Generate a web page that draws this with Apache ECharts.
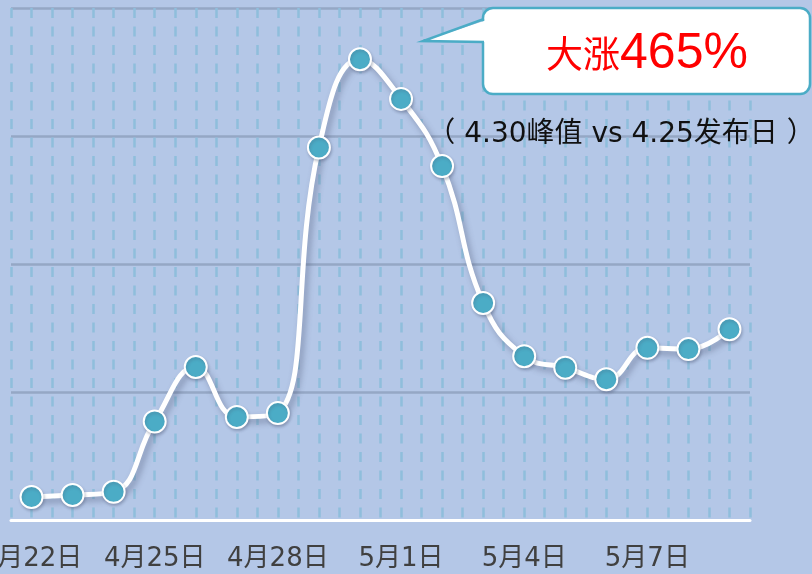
<!DOCTYPE html>
<html>
<head>
<meta charset="utf-8">
<script src="https://cdn.jsdelivr.net/npm/echarts@6/dist/echarts.min.js"></script>
<style>
  html, body { margin: 0; padding: 0; background: #b4c7e7; }
  #main { width: 812px; height: 574px; }
</style>
</head>
<body>
<div id="main"></div>
<script>
// data
const dates = ['4月22日', '4月23日', '4月24日', '4月25日', '4月26日', '4月27日',
  '4月28日', '4月29日', '4月30日', '5月1日', '5月2日', '5月3日',
  '5月4日', '5月5日', '5月6日', '5月7日', '5月8日', '5月9日'];
const values = [18, 19.5, 22, 77, 119.5, 80.5, 83.5, 291, 360, 329, 276.5, 169.5,
  128, 119, 110, 134.5, 133.5, 149];
const yTicks = [0, 100, 200, 300, 400];
const calloutMain = '大涨';
const calloutPct = '465%';
const calloutNote = '（ 4.30峰值 vs 4.25发布日 ）';

const teal = '#4bacc6';
const font = '"DejaVu Sans", "Noto Sans CJK SC", sans-serif';

let myChart = echarts.init(document.getElementById('main'));
let option = {
  backgroundColor: '#b4c7e7',
  animation: false,
  grid: { left: 11, right: 62, top: 8, bottom: 54, outerBoundsMode: 'none', containLabel: false },
  xAxis: [{
    type: 'category',
    data: dates,
    boundaryGap: true,
    axisLine: { lineStyle: { color: '#ffffff', width: 3 } },
    axisTick: { show: false },
    splitLine: { show: false },
    axisLabel: {
      interval: 2,
      margin: 26,
      color: '#404040',
      fontSize: 26,
      fontFamily: font
    }
  }, {
    // only used for the dashed vertical lines (every half day)
    type: 'value',
    min: 0,
    max: dates.length * 2,
    interval: 1,
    position: 'top',
    axisLine: { show: false },
    axisTick: { show: false },
    axisLabel: { show: false },
    splitLine: {
      show: true,
      lineStyle: { color: '#8fbedc', width: 2.5, type: [10, 8.5] }
    }
  }],
  yAxis: {
    type: 'value',
    min: yTicks[0],
    max: yTicks[yTicks.length - 1],
    interval: 100,
    axisLine: { show: false },
    axisTick: { show: false },
    axisLabel: { show: false },
    splitLine: { lineStyle: { color: '#95a7c5', width: 2.5 } }
  },
  series: [{
    type: 'line',
    data: values,
    smooth: 0.45,
    symbol: 'circle',
    symbolSize: 22,
    z: 5,
    lineStyle: {
      color: '#ffffff',
      width: 5,
      shadowColor: 'rgba(70,80,110,0.45)',
      shadowBlur: 6,
      shadowOffsetX: 3,
      shadowOffsetY: 4
    },
    itemStyle: {
      color: teal,
      borderColor: '#ffffff',
      borderWidth: 2,
      shadowColor: 'rgba(70,80,110,0.3)',
      shadowBlur: 3,
      shadowOffsetX: 1,
      shadowOffsetY: 2
    }
  }],
  graphic: [
    {
      type: 'rect', z: 100,
      shape: { x: 483, y: 8, width: 327, height: 86, r: 10 },
      style: { fill: '#ffffff', stroke: teal, lineWidth: 2.5 }
    },
    {
      type: 'polygon', z: 101,
      shape: { points: [[487, 20], [423, 41], [487, 42]] },
      style: { fill: '#ffffff' }
    },
    {
      type: 'polyline', z: 102,
      shape: { points: [[484, 19], [423, 41], [484, 42]] },
      style: { stroke: teal, lineWidth: 2.5, fill: null }
    },
    {
      type: 'text', z: 103,
      style: {
        x: 647, y: 54,
        text: '{a|' + calloutMain + '}{b|' + calloutPct + '}',
        align: 'center',
        verticalAlign: 'middle',
        rich: {
          a: { fill: '#ff0000', fontSize: 37, fontFamily: '"Noto Sans CJK SC", sans-serif' },
          b: { fill: '#ff0000', fontSize: 50, fontFamily: '"Liberation Sans", sans-serif' }
        }
      }
    },
    {
      type: 'text', z: 103,
      style: {
        x: 621, y: 135,
        text: calloutNote,
        align: 'center',
        verticalAlign: 'middle',
        fill: '#111111',
        fontSize: 28,
        fontFamily: font
      }
    }
  ]
};
myChart.setOption(option);
</script>
</body>
</html>
